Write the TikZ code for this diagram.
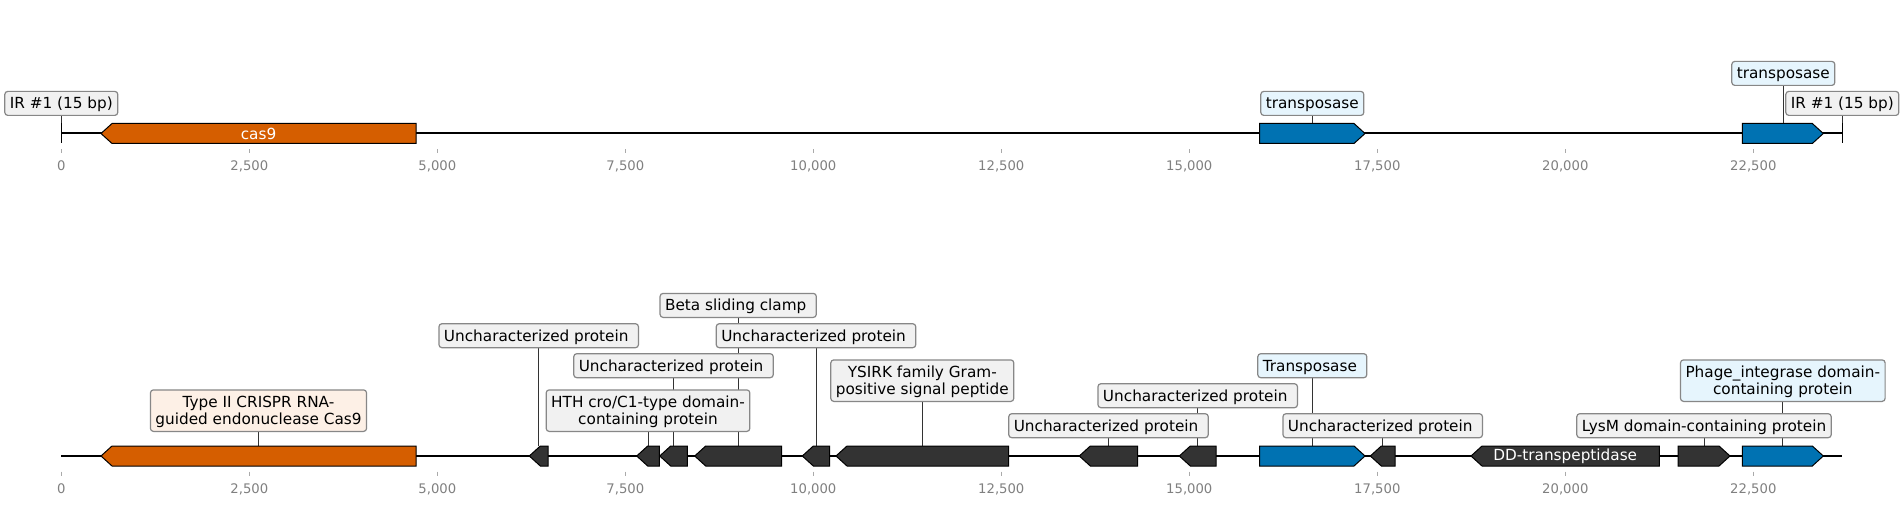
\documentclass[tikz,border=0pt]{standalone}
\usepackage{fontspec}
\setmainfont{DejaVu Sans}
\usetikzlibrary{backgrounds}
\definecolor{cOrange}{RGB}{213,94,0}
\definecolor{cBlue}{RGB}{0,114,178}
\definecolor{cDark}{RGB}{51,51,51}
\definecolor{bGray}{RGB}{241,241,241}
\definecolor{bBlue}{RGB}{230,245,253}
\definecolor{bOrange}{RGB}{253,240,230}
\definecolor{bEdge}{RGB}{135,135,135}
\definecolor{tickGray}{RGB}{128,128,128}
\definecolor{tickMark}{RGB}{170,170,170}
\newcommand\lbtop{\rule{0pt}{17.5pt}}
\newcommand\lbbot{\rule[-6.5pt]{0pt}{6.5pt}}
\newcommand\geneL[4]{\draw[gene,fill=#4] (#1,#3) -- ({#1+11},{#3-10}) -- (#2,{#3-10}) -- (#2,{#3+10}) -- ({#1+11},{#3+10}) -- cycle;}
\newcommand\geneR[4]{\draw[gene,fill=#4] (#1,{#3-10}) -- ({#2-11},{#3-10}) -- (#2,#3) -- ({#2-11},{#3+10}) -- (#1,{#3+10}) -- cycle;}
\begin{document}
\begin{tikzpicture}[x=1pt,y=-1pt,
  gene/.style={draw=black,line width=1pt,line join=miter},
  mainline/.style={draw=black,line width=1.7pt},
  endbar/.style={draw=black,line width=1.4pt},
  stem/.style={draw=cDark,line width=0.9pt},
  lab/.style={draw=bEdge,line width=1.2pt,rounded corners=3pt,fill=bGray,
    inner xsep=5pt,inner ysep=0pt,anchor=south,font=\fontsize{15.28}{17.5}\selectfont},
  labtwo/.style={lab,align=center},
  inlab/.style={text=white,inner sep=0pt,anchor=center,font=\fontsize{15.28}{17.5}\selectfont},
  tickmark/.style={draw=tickMark,line width=0.9pt},
  ticklab/.style={text=tickGray,inner sep=0pt,anchor=base,font=\fontsize{13.2}{15}\selectfont}]
\useasboundingbox (0,0) rectangle (1903,505);
\begin{pgfonlayer}{background}
\fill[white] (0,0) rectangle (1903,505);
\end{pgfonlayer}

% ---------- ticks ----------
\foreach \i/\lbl in {0/0,1/{2,500},2/{5,000},3/{7,500},4/{10,000},5/{12,500},6/{15,000},7/{17,500},8/{20,000},9/{22,500}} {
  \pgfmathsetmacro\xx{61.3+188*\i}
  \draw[tickmark] (\xx,149.3) -- (\xx,153.3);
  \node[ticklab] (tt\i) at (\xx,170.7) {\lbl};
  \draw[tickmark] (\xx,471.7) -- (\xx,476);
  \node[ticklab] (tb\i) at (\xx,493.3) {\lbl};
}

% ---------- top track ----------
\draw[mainline] (61.3,133.3) -- (1842.3,133.3);
\draw[endbar] (61.3,123.5) -- (61.3,143.5);
\draw[endbar] (1842.3,123.5) -- (1842.3,143.5);
\geneL{101}{416}{133.5}{cOrange}
\geneR{1259.7}{1365}{133.5}{cBlue}
\geneR{1742.3}{1823.3}{133.5}{cBlue}
\node[inlab] (tcas) at (258.5,133.5) {cas9};
\coordinate (irL) at (61.3,123.5);
\coordinate (irR) at (1842.3,123.5);
\coordinate (tT1) at (1312.3,123.5);
\coordinate (tT2) at (1783.3,123.5);
\node[lab] (lirL) at (61.3,116) {\lbtop\lbbot IR \#1 (15 bp)};
\node[lab] (lirR) at (1842.3,116) {\lbtop\lbbot IR \#1 (15 bp)};
\node[lab,fill=bBlue] (ltT1) at (1312.3,116) {\lbtop\lbbot transposase};
\node[lab,fill=bBlue] (ltT2) at (1783.3,86) {\lbtop\lbbot transposase};
\begin{pgfonlayer}{background}
\draw[stem] (irL) -- (lirL.south);
\draw[stem] (irR) -- (lirR.south);
\draw[stem] (tT1) -- (ltT1.south);
\draw[stem] (tT2) -- (ltT2.south);
\end{pgfonlayer}

% ---------- bottom track ----------
\draw[mainline] (61.3,456) -- (1842.3,456);
\geneL{101}{416}{456}{cOrange}
\geneL{529.3}{548}{456}{cDark}
\geneL{636.7}{659.3}{456}{cDark}
\geneL{659.7}{687.3}{456}{cDark}
\geneL{694.7}{781.7}{456}{cDark}
\geneL{802.3}{829.7}{456}{cDark}
\geneL{836}{1008.5}{456}{cDark}
\geneL{1079.3}{1137.7}{456}{cDark}
\geneL{1179.3}{1216}{456}{cDark}
\geneR{1259.7}{1365}{456}{cBlue}
\geneL{1370.3}{1395}{456}{cDark}
\geneL{1471}{1659.3}{456}{cDark}
\geneR{1678}{1730}{456}{cDark}
\geneR{1742.3}{1823.3}{456}{cBlue}
\node[inlab] (ldd) at (1565.2,456) {DD-transpeptidase};

\coordinate (gCas) at (258.5,446);
\coordinate (gA) at (538.7,446);
\coordinate (gB) at (648,446);
\coordinate (gC) at (673.5,446);
\coordinate (gD) at (738.2,446);
\coordinate (gE) at (816,446);
\coordinate (gF) at (922.3,446);
\coordinate (gG) at (1108.5,446);
\coordinate (gH) at (1197.7,446);
\coordinate (gT) at (1312.3,446);
\coordinate (gI) at (1382.7,446);
\coordinate (gL) at (1704,446);
\coordinate (gP) at (1782.8,446);

\node[labtwo,fill=bOrange] (lCas) at (258.5,432) {\lbtop Type II CRISPR RNA-\\\lbbot guided endonuclease Cas9};
\node[lab] (lA) at (538.7,348.3) {\lbtop\lbbot Uncharacterized protein\kern4.9pt};
\node[labtwo] (lB) at (648,432) {\lbtop HTH cro/C1-type domain-\\\lbbot containing protein};
\node[lab] (lC) at (673.5,378.3) {\lbtop\lbbot Uncharacterized protein\kern4.9pt};
\node[lab] (lD) at (738.2,318) {\lbtop\lbbot Beta sliding clamp\kern4.9pt};
\node[lab] (lE) at (816,348.3) {\lbtop\lbbot Uncharacterized protein\kern4.9pt};
\node[labtwo] (lF) at (922.3,402) {\lbtop YSIRK family Gram-\\\lbbot positive signal peptide};
\node[lab] (lG) at (1108.5,438.3) {\lbtop\lbbot Uncharacterized protein\kern4.9pt};
\node[lab] (lH) at (1197.7,408.3) {\lbtop\lbbot Uncharacterized protein\kern4.9pt};
\node[lab,fill=bBlue] (lT) at (1312.3,378.3) {\lbtop\lbbot Transposase\kern4.9pt};
\node[lab] (lI) at (1382.7,438.3) {\lbtop\lbbot Uncharacterized protein\kern4.9pt};
\node[lab] (lL) at (1704,438.3) {\lbtop\lbbot LysM domain-containing protein};
\node[labtwo,fill=bBlue] (lP) at (1782.8,402) {\lbtop Phage\_integrase domain-\\\lbbot containing protein};

\begin{pgfonlayer}{background}
\foreach \g/\l in {gCas/lCas,gA/lA,gB/lB,gC/lC,gD/lD,gE/lE,gF/lF,gG/lG,gH/lH,gT/lT,gI/lI,gL/lL,gP/lP}
  \draw[stem] (\g) -- (\l.south);
\end{pgfonlayer}
\end{tikzpicture}
\end{document}
